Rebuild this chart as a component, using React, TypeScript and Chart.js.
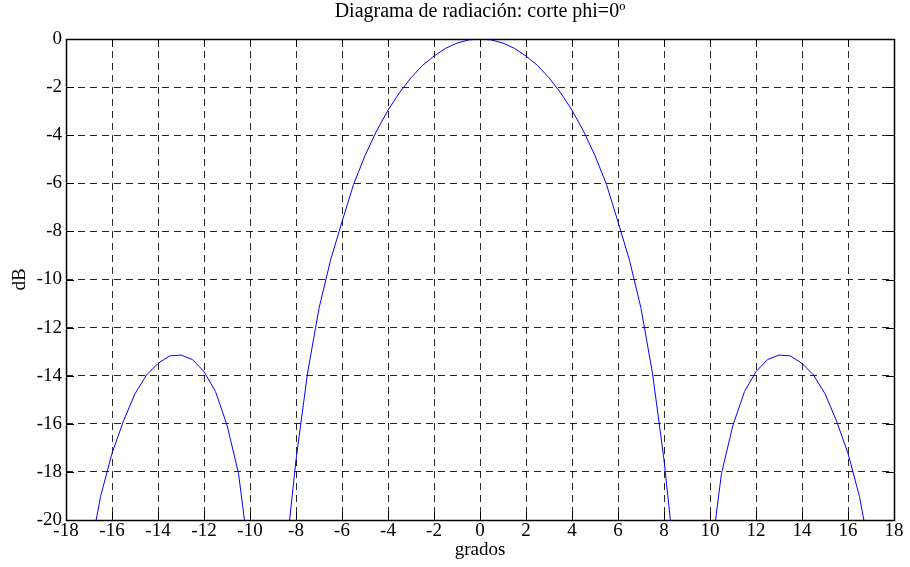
import React, { useEffect, useRef } from "react";
import { Chart, registerables } from "chart.js";

Chart.register(...registerables);

const TITLE = "Diagrama de radiación: corte phi=0º";
const X_LABEL = "grados";
const Y_LABEL = "dB";
const X_MIN = -18;
const X_MAX = 18;
const Y_MIN = -20;
const Y_MAX = 0;
const X_STEP = 2;
const Y_STEP = 2;

// main lobe, sampled every 0.5 degrees
const mainLobeAngles = [
  -8.5, -8, -7.5, -7, -6.5, -6, -5.5, -5, -4.5, -4, -3.5, -3, -2.5, -2, -1.5, -1, -0.5,
  0, 0.5, 1, 1.5, 2, 2.5, 3, 3.5, 4, 4.5, 5, 5.5, 6, 6.5, 7, 7.5, 8, 8.5,
];
const mainLobeDb = [
  -22.0, -17.5, -13.9, -11.2, -9.2, -7.6, -6.05, -4.85, -3.83, -2.96, -2.23, -1.61, -1.1, -0.71, -0.39, -0.17, -0.04,
  0, -0.04, -0.17, -0.39, -0.71, -1.1, -1.61, -2.23, -2.96, -3.83, -4.85, -6.05, -7.6, -9.2, -11.2, -13.9, -17.5, -22.0,
];

// left side lobe
const leftLobeAngles = [-17, -16.5, -16, -15.5, -15, -14.5, -14, -13.5, -13, -12.5, -12, -11.5, -11, -10.5, -10];
const leftLobeDb = [-21.6, -19.03, -17.23, -15.88, -14.75, -13.97, -13.49, -13.18, -13.14, -13.33, -13.83, -14.66, -16.05, -18.06, -21.8];

// right side lobe
const rightLobeAngles = [10, 10.5, 11, 11.5, 12, 12.5, 13, 13.5, 14, 14.5, 15, 15.5, 16, 16.5, 17];
const rightLobeDb = [-21.8, -18.06, -16.05, -14.66, -13.83, -13.33, -13.14, -13.18, -13.49, -13.97, -14.75, -15.88, -17.23, -19.03, -21.6];

const FONT = "'Liberation Serif', 'Times New Roman', serif";
const TICK_SIZE = 19;
const LABEL_SIZE = 19;
const TITLE_SIZE = 20;
const LINE_COLOR = "#0000ff";

const toPoints = (xs: number[], ys: number[]) => xs.map((x, i) => ({ x, y: ys[i] }));

const framePlugin = {
  id: "matlabFrame",
  afterDraw(chart: any) {
    const { ctx, chartArea } = chart;
    const { left, right, top, bottom } = chartArea;
    const xs = chart.scales.x;
    const ys = chart.scales.y;
    ctx.save();
    ctx.strokeStyle = "#000";
    ctx.lineWidth = 1;
    ctx.setLineDash([]);
    // inside tick marks
    const tl = 8;
    ctx.beginPath();
    for (let v = X_MIN; v <= X_MAX; v += X_STEP) {
      const px = Math.round(xs.getPixelForValue(v)) + 0.5;
      ctx.moveTo(px, bottom);
      ctx.lineTo(px, bottom - tl);
      ctx.moveTo(px, top);
      ctx.lineTo(px, top + tl);
    }
    for (let v = Y_MIN; v <= Y_MAX; v += Y_STEP) {
      const py = Math.round(ys.getPixelForValue(v)) + 0.5;
      ctx.moveTo(left, py);
      ctx.lineTo(left + tl, py);
      ctx.moveTo(right, py);
      ctx.lineTo(right - tl, py);
    }
    ctx.stroke();
    // box
    ctx.lineWidth = 1.5;
    ctx.strokeRect(Math.round(left) + 0.5, Math.round(top) + 0.5, Math.round(right - left), Math.round(bottom - top));
    // texts
    ctx.fillStyle = "#000";
    ctx.textAlign = "center";
    ctx.textBaseline = "middle";
    const cx = (left + right) / 2;
    ctx.font = `${TITLE_SIZE}px ${FONT}`;
    ctx.fillText(TITLE, cx, top - 27);
    ctx.font = `${LABEL_SIZE}px ${FONT}`;
    ctx.fillText(X_LABEL, cx, bottom + 30);
    ctx.translate(20, (top + bottom) / 2);
    ctx.rotate(-Math.PI / 2);
    ctx.fillText(Y_LABEL, 0, 0);
    ctx.restore();
  },
};

export default function App() {
  const ref = useRef<HTMLCanvasElement | null>(null);
  useEffect(() => {
    document.body.style.margin = "0";
    const canvas = ref.current;
    if (!canvas) return;
    const ds = (xs: number[], ys: number[]) => ({
      data: toPoints(xs, ys),
      borderColor: LINE_COLOR,
      backgroundColor: LINE_COLOR,
      borderWidth: 1,
      pointRadius: 0,
      tension: 0,
      fill: false,
    });
    const chart = new Chart(canvas, {
      type: "line",
      data: {
        datasets: [
          ds(leftLobeAngles, leftLobeDb),
          ds(mainLobeAngles, mainLobeDb),
          ds(rightLobeAngles, rightLobeDb),
        ],
      },
      options: {
        animation: false,
        responsive: false,
        devicePixelRatio: 1,
        layout: { padding: { left: 0, top: 39, right: 16, bottom: 0 } },
        plugins: { legend: { display: false }, tooltip: { enabled: false }, title: { display: false } },
        scales: {
          x: {
            type: "linear",
            min: X_MIN,
            max: X_MAX,
            afterFit: (s: any) => {
              s.height = 47;
            },
            ticks: {
              stepSize: X_STEP,
              autoSkip: false,
              maxRotation: 0,
              color: "#000",
              padding: 0,
              font: { family: FONT, size: TICK_SIZE },
            },
            grid: { color: "rgba(0,0,0,0.85)", lineWidth: 1, drawTicks: false, tickLength: 0 },
            border: { display: false, dash: [7, 5] },
          },
          y: {
            type: "linear",
            min: Y_MIN,
            max: Y_MAX,
            afterFit: (s: any) => {
              s.width = 66;
            },
            ticks: {
              stepSize: Y_STEP,
              autoSkip: false,
              color: "#000",
              padding: 4,
              font: { family: FONT, size: TICK_SIZE },
            },
            grid: { color: "rgba(0,0,0,0.85)", lineWidth: 1, drawTicks: false, tickLength: 0 },
            border: { display: false, dash: [7, 5] },
          },
        },
      },
      plugins: [framePlugin],
    });
    return () => chart.destroy();
  }, []);
  return (
    <div style={{ width: 910, height: 567, background: "#fff" }}>
      <canvas ref={ref} width={910} height={567} style={{ display: "block" }} />
    </div>
  );
}
